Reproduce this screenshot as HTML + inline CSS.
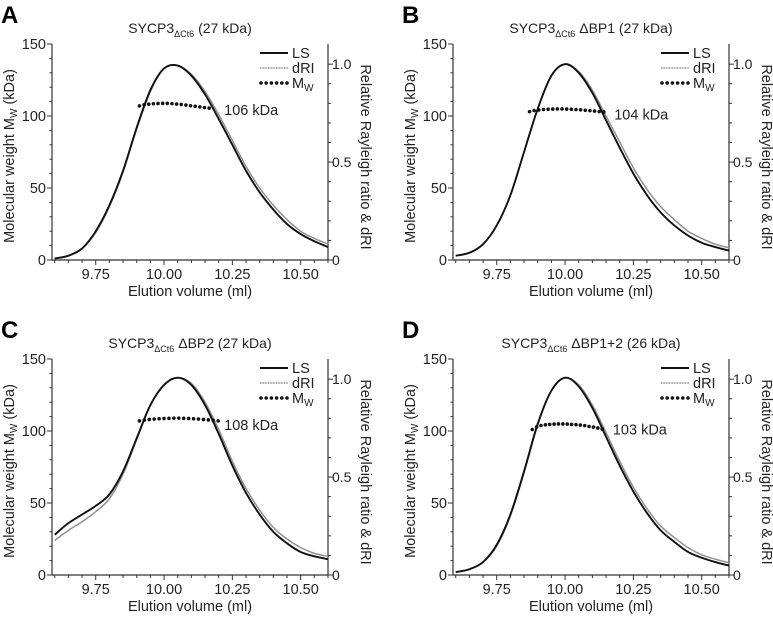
<!DOCTYPE html>
<html><head><meta charset="utf-8"><style>
body{margin:0;background:#fff;}
svg{display:block;font-family:"Liberation Sans",sans-serif;}
</style></head><body>
<svg id="fig" width="773" height="617"></svg>
<script>
// shared x grid (ml)
const xs = [9.60,9.65,9.70,9.75,9.80,9.85,9.90,9.95,10.00,10.05,10.10,10.15,10.20,10.25,10.30,10.35,10.40,10.45,10.50,10.55,10.60];
// signals in left-axis units (right axis 1.0 = 136)
const lsA  = [1,3,8,20,38,62,92,118,133,135,128,115,98,80,62,47,35,25,18,13,9];
const driA = [1,3,8,19,37,61,91,117,133,135,129,117,101,83,65,50,38,28,20,15,11];
const mwAx = [9.91,9.927,9.944,9.961,9.978,9.995,10.012,10.029,10.046,10.063,10.08,10.097,10.114,10.131,10.148,10.165];
const mwAy = [107,107.8,108.2,108.5,108.7,108.8,108.8,108.6,108.3,108,107.6,107.1,106.7,106.3,105.9,105.5];

const lsB  = [3,5,11,24,45,75,105,128,136,130,116,97,78,60,45,33,24,17,12,9,6.5];
const driB = [3,5,11,24,45,75,105,128,136,131,118,100,82,64,49,37,28,20,15,11,8.5];
const mwBx = [9.87,9.887,9.904,9.921,9.938,9.955,9.972,9.989,10.006,10.023,10.04,10.057,10.074,10.091,10.108,10.125,10.142];
const mwBy = [103,103.8,104.2,104.5,104.7,104.8,104.9,104.9,104.8,104.7,104.5,104.3,104,103.7,103.4,103.1,102.8];

const lsC  = [28,36,42,48,56,72,95,118,132,137,132,118,98,76,57,42,30,22,16,13,11];
const driC = [24,31,37,44,53,70,94,118,132,137,133,120,101,79,60,45,33,25,19,15,13];
const mwCx = [9.91,9.928,9.946,9.964,9.982,10.0,10.018,10.036,10.054,10.072,10.09,10.108,10.126,10.144,10.162,10.18,10.198];
const mwCy = [107,107.6,108,108.3,108.5,108.7,108.8,108.9,108.9,108.8,108.7,108.5,108.3,108,107.7,107.4,107];

const lsD  = [2,4,9,21,42,72,105,128,137,131,116,96,76,58,43,31,23,16,12,9,6.5];
const driD = [2,4,9,20,41,71,104,128,137,132,118,99,79,61,46,34,26,19,14,11,8.5];
const mwDx = [9.88,9.896,9.912,9.928,9.944,9.96,9.976,9.992,10.008,10.024,10.04,10.056,10.072,10.088,10.104,10.12,10.136];
const mwDy = [101,102.8,103.8,104.3,104.6,104.8,104.9,104.9,104.8,104.6,104.4,104.1,103.7,103.2,102.7,102.1,101.4];

const panels = [
 {id:'a',letter:'A',ox:0,oy:0,tail:' (27 kDa)',ls:lsA,dri:driA,mx:mwAx,my:mwAy,lab:'106 kDa',lx:10.22,ly:104},
 {id:'b',letter:'B',ox:401,oy:0,tail:' \u0394BP1 (27 kDa)',ls:lsB,dri:driB,mx:mwBx,my:mwBy,lab:'104 kDa',lx:10.18,ly:101},
 {id:'c',letter:'C',ox:0,oy:315,tail:' \u0394BP2 (27 kDa)',ls:lsC,dri:driC,mx:mwCx,my:mwCy,lab:'108 kDa',lx:10.22,ly:104},
 {id:'d',letter:'D',ox:401,oy:315,tail:' \u0394BP1+2 (26 kDa)',ls:lsD,dri:driD,mx:mwDx,my:mwDy,lab:'103 kDa',lx:10.175,ly:101}
];
const NS='http://www.w3.org/2000/svg';
const svg=document.getElementById('fig');
function mk(tag,attrs,parent,text){const e=document.createElementNS(NS,tag);for(const k in attrs)e.setAttribute(k,attrs[k]);if(text!==undefined)e.textContent=text;parent.appendChild(e);return e;}
function smooth(pts){let d='M'+pts[0][0].toFixed(2)+','+pts[0][1].toFixed(2);for(let i=0;i<pts.length-1;i++){const p0=pts[Math.max(0,i-1)],p1=pts[i],p2=pts[i+1],p3=pts[Math.min(pts.length-1,i+2)];const c1x=p1[0]+(p2[0]-p0[0])/6,c1y=p1[1]+(p2[1]-p0[1])/6,c2x=p2[0]-(p3[0]-p1[0])/6,c2y=p2[1]-(p3[1]-p1[1])/6;d+=' C'+c1x.toFixed(2)+','+c1y.toFixed(2)+' '+c2x.toFixed(2)+','+c2y.toFixed(2)+' '+p2[0].toFixed(2)+','+p2[1].toFixed(2);}return d;}
const L=52,R=328,T=44,B=260,X0=9.59,X1=10.60;
panels.forEach(p=>{
 const g=mk('g',{transform:`translate(${p.ox},${p.oy})`},svg);
 
 
 const sx=x=>L+(x-X0)/(X1-X0)*(R-L);
 const sy=v=>B-v/150*(B-T);
 const letter=mk('text',{x:1,y:23,'font-size':24,'font-weight':'bold'},g,p.letter);
 
 const t=mk('text',{x:190,y:33,'font-size':14,'text-anchor':'middle',fill:'#222'},g);
 
 mk('tspan',{},t,'SYCP3');mk('tspan',{'font-size':9,dy:4},t,'\u0394Ct6');mk('tspan',{dy:-4},t,p.tail);
 const ax={stroke:'#333','stroke-width':1.2,fill:'none'};
 const la=mk('line',Object.assign({x1:L,y1:T,x2:L,y2:B},ax),g);
 const ra=mk('line',Object.assign({x1:R,y1:T,x2:R,y2:B},ax),g);
 const ba=mk('line',Object.assign({x1:L,y1:B,x2:R,y2:B},ax),g);
 for(let v=0;v<=150;v+=10){const maj=v%50===0;mk('line',{x1:L-(maj?5:2.5),x2:L,y1:sy(v),y2:sy(v),stroke:'#333','stroke-width':1},g);
  if(maj){const tl=mk('text',{x:L-6,y:sy(v)+5,'font-size':14.5,'text-anchor':'end',fill:'#222'},g,String(v));}}
 for(let k=0;k<=10;k++){const r=k/10,y=B-r*136*(B-T)/150;const maj=k%5===0;mk('line',{x1:R,x2:R+(maj?5:3),y1:y,y2:y,stroke:'#333','stroke-width':1},g);
  if(maj){const tl=mk('text',{x:R+4,y:y+5,'font-size':14,fill:'#222'},g,k===0?'0':(r.toFixed(1)));}}
 for(let i=0;i<=20;i++){const x=9.6+i*0.05;if(x>X1+1e-6)break;const maj=Math.abs((x-9.75)/0.25-Math.round((x-9.75)/0.25))<1e-6;mk('line',{x1:sx(x),x2:sx(x),y1:B,y2:B+(maj?5:3),stroke:'#333','stroke-width':1},g);
  if(maj&&x>9.7){const tl=mk('text',{x:sx(x),y:B+19,'font-size':14.5,'text-anchor':'middle',fill:'#222'},g,x.toFixed(2));}}
 const xt=mk('text',{x:(L+R)/2,y:B+36,'font-size':14.5,'text-anchor':'middle',fill:'#222'},g,'Elution volume (ml)');
 const yt=mk('text',{transform:`translate(14,${(T+B)/2+4}) rotate(-90)`,'font-size':14.5,'text-anchor':'middle',fill:'#222'},g);
 
 mk('tspan',{},yt,'Molecular weight M');mk('tspan',{'font-size':10,dy:3},yt,'W');mk('tspan',{dy:-3},yt,' (kDa)');
 const rt=mk('text',{transform:`translate(361,${(T+B)/2+5}) rotate(90)`,'font-size':14.5,'text-anchor':'middle',fill:'#222'},g,'Relative Rayleigh ratio & dRI');
 
 const dp=mk('path',{d:smooth(xs.map((x,i)=>[sx(x),sy(p.dri[i])])),stroke:'#909090','stroke-width':1.5,fill:'none'},g);
 
 const lp=mk('path',{d:smooth(xs.map((x,i)=>[sx(x),sy(p.ls[i])])),stroke:'#111','stroke-width':1.9,fill:'none'},g);
 
 p.mx.forEach((x,i)=>{const c=mk('circle',{cx:sx(x),cy:sy(p.my[i]),r:1.8,fill:'#111'},g);
  });
 const ml=mk('text',{x:sx(p.lx),y:sy(p.ly)+5,'font-size':14.5,fill:'#222'},g,p.lab);
 const lg=mk('g',{},g);
 mk('line',{x1:260,x2:288,y1:53,y2:53,stroke:'#111','stroke-width':1.9},lg);
 mk('text',{x:292,y:58,'font-size':14.5,fill:'#222'},lg,'LS');
 mk('line',{x1:260,x2:288,y1:68,y2:68,stroke:'#8a8a8a','stroke-width':1.4,'stroke-dasharray':'1 0.6'},lg);
 mk('text',{x:292,y:73,'font-size':14.5,fill:'#222'},lg,'dRI');
 for(let k=0;k<6;k++)mk('circle',{cx:261+k*5.2,cy:83,r:1.8,fill:'#111'},lg);
 const mt=mk('text',{x:292,y:88,'font-size':14.5,fill:'#222'},lg);mk('tspan',{},mt,'M');mk('tspan',{'font-size':10,dy:3},mt,'W');
});
</script>
</body></html>
